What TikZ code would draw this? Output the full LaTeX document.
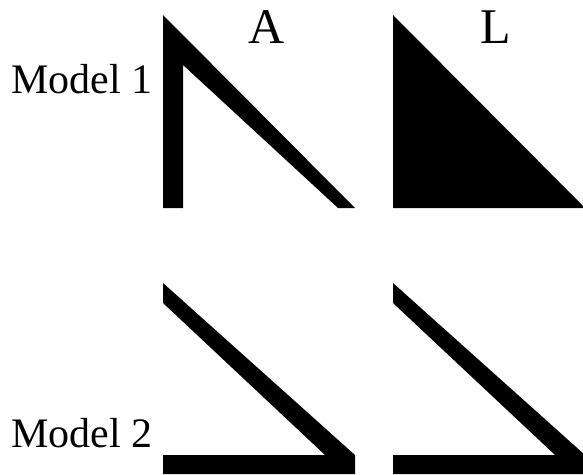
\documentclass[tikz,border=0pt]{standalone}
\usepackage{fontspec}
\setmainfont{Liberation Serif}
\usetikzlibrary{positioning}

\begin{document}
\begin{tikzpicture}[
    x=1pt, y=-1pt,
    every node/.style={inner sep=0pt},
    rowlabel/.style={anchor=base west, font=\fontsize{42}{48}\selectfont},
    collabel/.style={anchor=base, font=\fontsize{50}{58}\selectfont},
    band/.style={fill=black, draw=none}
]
    \useasboundingbox (0,0) rectangle (583,474);

    % Labels
    \node[collabel] (colA) at (267,43) {A};
    \node[collabel] (colL) at (496,43) {L};
    \node[rowlabel] (row1) at (11,93) {Model 1};
    \node[rowlabel] (row2) at (11,447) {Model 2};

    % Model 1
    \fill[band] (163,15) -- (355,208) -- (338,208) -- (183,65) -- (183,208) -- (163,208) -- cycle;
    \fill[band] (393,15) -- (585,208) -- (393,208) -- cycle;

    % Model 2
    \foreach \dx in {0,230} {
        \fill[band, xshift=\dx] (163,283) -- (355,455) -- (355,474) -- (163,474) -- (163,455) -- (325,455) -- (163,303) -- cycle;
    }
\end{tikzpicture}
\end{document}
